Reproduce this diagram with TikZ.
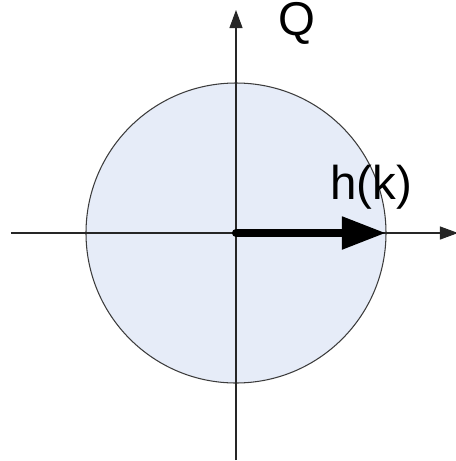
\documentclass[tikz,border=0pt]{standalone}
\usepackage{fontspec}
\setmainfont{Liberation Sans}
\usetikzlibrary{arrows.meta,positioning}
\definecolor{discfill}{RGB}{230,236,248}
\definecolor{discline}{RGB}{60,60,60}
\tikzset {
  >={Triangle[length=18*0.02cm,width=13*0.02cm]},
  every node/.style={font=\fontsize{27}{30}\selectfont, inner sep=0pt},
  axis/.style={->, line width=0.6pt, black!85},
  vec/.style={-{Triangle[length=44*0.02cm,width=31*0.02cm]}, line width=4.6pt, line cap=round},
}

\begin{document}
\begin{tikzpicture}[x=0.02cm,y=-0.02cm]
          \useasboundingbox (0,0) rectangle (456,461);
          \clip (0,0) rectangle (456,461);
          \coordinate (o) at (236,233);
          \coordinate (left) at (11,233);
          \coordinate (right) at (458,233);
          \coordinate (bottom) at (236,460);
          \coordinate (top) at (236,10);
          \coordinate (hk) at (386,233);
          \filldraw[fill=discfill, draw=discline, line width=0.6pt] (o) circle[radius=150];
          \draw[axis] (left) -- (right);
          \draw[axis] (bottom) -- (top);
          \node (Q) at (297,23) {Q};
          \node (I) [anchor=west] at (452,286) {I};
          \draw[vec] (o) -- (hk);
          \node (h) at (371,187) {h(k)};
        \end{tikzpicture}
\end{document}
